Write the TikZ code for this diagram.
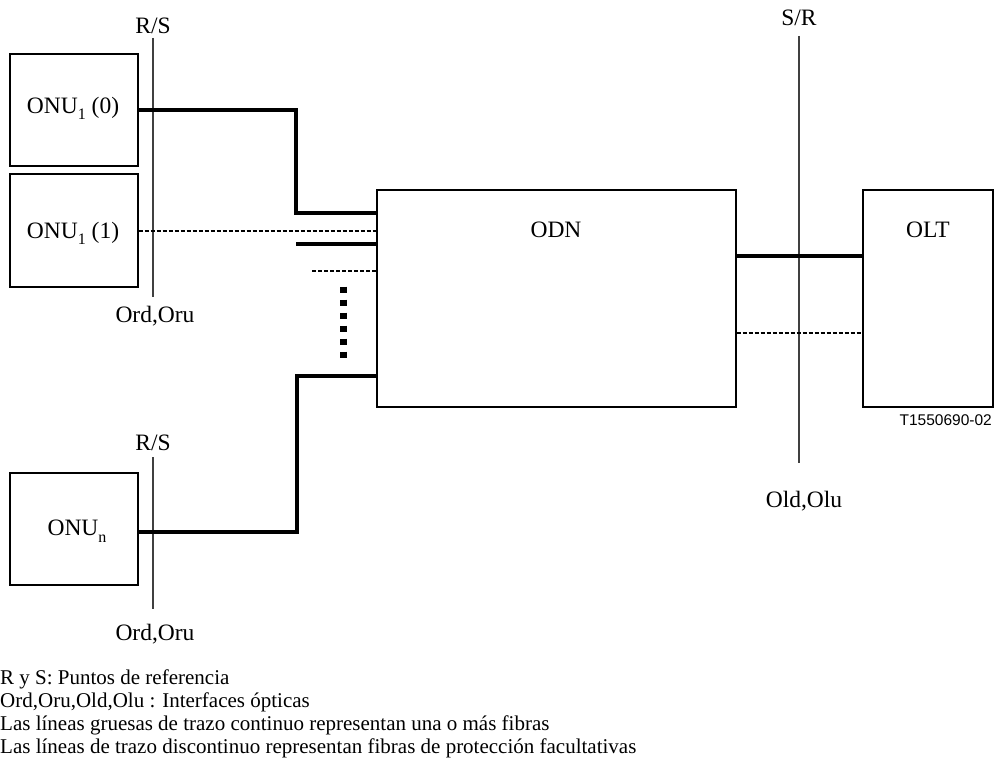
\documentclass[tikz,border=0pt]{standalone}
\usepackage{fontspec}
\setmainfont{Liberation Serif}
\newfontfamily\arialfont{Liberation Sans}
\newcommand\lowsub[2]{\raisebox{-#1pt}{\fontsize{16}{16}\selectfont #2}}
\begin{document}
\begin{tikzpicture}[x=1pt,y=-1pt,
  box/.style={draw, line width=1.2pt, inner sep=0pt},
  refline/.style={line width=1.2pt, draw=black!75},
  fiber/.style={line width=3.8pt},
  prot/.style={line width=2pt, dash pattern=on 4pt off 2pt},
  dotcol/.style={line width=7pt, dash pattern=on 6pt off 7pt},
  lbl/.style={font=\fontsize{23.5}{25}\selectfont, inner sep=0pt, anchor=base},
  legend/.style={font=\fontsize{21}{23}\selectfont, inner sep=0pt, anchor=base west},
  code/.style={font=\arialfont\fontsize{15.5}{17}\selectfont, inner sep=0pt, anchor=base east}]
\useasboundingbox (0,0) rectangle (994,773);

% boxes
\node[box, minimum width=128pt, minimum height=112pt] (onu0) at (74,110) {};
\node[box, minimum width=128pt, minimum height=113pt] (onu1) at (74,230.5) {};
\node[box, minimum width=128pt, minimum height=112pt] (onun) at (74,529) {};
\node[box, minimum width=359pt, minimum height=217pt] (odn) at (556.5,298.5) {};
\node[box, minimum width=130pt, minimum height=217pt] (olt) at (928,298.5) {};

% reference lines
\coordinate (rsAt) at (153,38);  \coordinate (rsAb) at (153,297);
\coordinate (rsBt) at (153,457); \coordinate (rsBb) at (153,609);
\coordinate (srt) at (799,36);   \coordinate (srb) at (799,463);
\draw[refline] (rsAt) -- (rsAb);
\draw[refline] (rsBt) -- (rsBb);
\draw[refline] (srt) -- (srb);

% junctions
\coordinate (j1) at (296,213);
\coordinate (j2) at (296,244);
\coordinate (j3) at (312,271);
\coordinate (j4) at (297,376);
\coordinate (j5) at (297,532);
\coordinate (d1) at (343.5,286.7);
\coordinate (d2) at (343.5,359);
\coordinate (k1) at (799,256);
\coordinate (k2) at (799,333);

% fibres
\draw[fiber] (onu0.east) -| (j1) -- (j1 -| odn.west);
\draw[prot] (onu1.east) -- (onu1.east -| odn.west);
\draw[fiber] (j2) -- (j2 -| odn.west);
\draw[prot] (j3) -- (j3 -| odn.west);
\draw[dotcol] (d1) -- (d2);
\draw[fiber] (j4 -| odn.west) -- (j4) -- (j5) -- (j5 -| onun.east);
\draw[fiber] (k1 -| odn.east) -- (k1 -| olt.west);
\draw[prot] (k2 -| odn.east) -- (k2 -| olt.west);

% labels
\node[lbl] (lrs1) at (153,34) {R/S};
\node[lbl] (lord1) at (155,322) {Ord,Oru};
\node[lbl] (lonu0) at (73,114) {ONU\lowsub{6}{1} (0)};
\node[lbl] (lonu1) at (73,238) {ONU\lowsub{6}{1} (1)};
\node[lbl] (lonun) at (77,535) {ONU\lowsub{7}{n}};
\node[lbl] (lrs2) at (153,450) {R/S};
\node[lbl] (lord2) at (155,640) {Ord,Oru};
\node[lbl] (lodn) at (556,237) {ODN};
\node[lbl] (lolt) at (928,237) {OLT};
\node[lbl] (lsr) at (799,26) {S/R};
\node[lbl] (lold) at (804,507) {Old,Olu};
\node[code] (lcode) at (992,425) {T1550690-02};

% legend
\node[legend] (leg1) at (0,684) {R y S: Puntos de referencia};
\node[legend] (leg2) at (0,707) {Ord,Oru,Old,Olu : Interfaces ópticas};
\node[legend] (leg3) at (0,730) {Las líneas gruesas de trazo continuo representan una o más fibras};
\node[legend] (leg4) at (0,753) {Las líneas de trazo discontinuo representan fibras de protección facultativas};
\end{tikzpicture}
\end{document}
